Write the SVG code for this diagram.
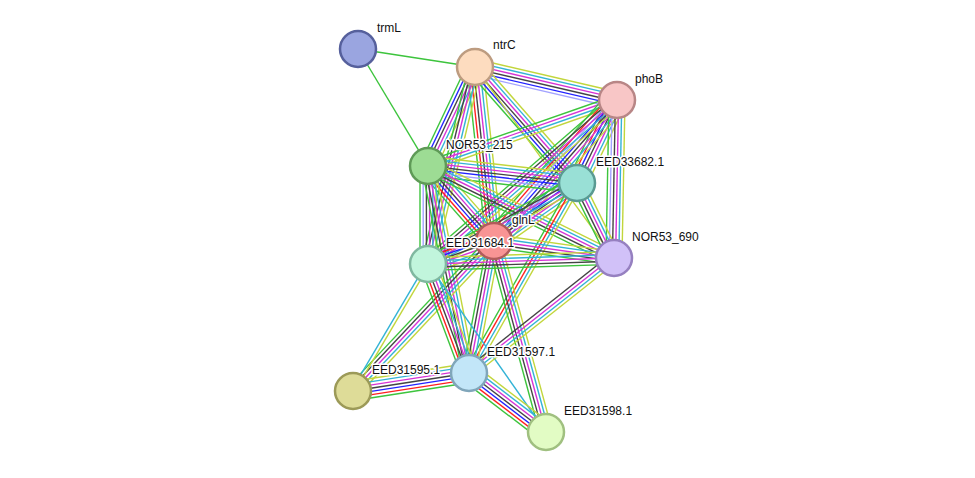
<svg xmlns="http://www.w3.org/2000/svg" width="975" height="478" viewBox="0 0 975 478">
<style>
.e line{stroke-width:1.4;fill:none}
.g{stroke:#3dc43d}.r{stroke:#ff2020}.b{stroke:#2323ff}.k{stroke:#444}.m{stroke:#d633d6}.c{stroke:#33b3d6}.y{stroke:#c2d63c}.l{stroke:#a3a3ff}
.n circle{stroke-width:2.5}
.n text{font-family:"Liberation Sans",Arial,sans-serif;font-size:12px;fill:#111;stroke:#fff;stroke-width:3;paint-order:stroke;stroke-linejoin:round}
</style>
<defs>
<g id="b_g" class="e"><line class="g" x2="1"/></g>
<g id="b_y" class="e"><line class="y" x2="1"/></g>
<g id="b_c" class="e"><line class="c" x2="1"/></g>
<g id="b_cy" class="e"><line class="y" x2="1" y1="-1.6" y2="-1.6"/><line class="c" x2="1" y1="1.6" y2="1.6"/></g>
<g id="b_kmcy" class="e"><line class="y" x2="1" y1="-4.8" y2="-4.8"/><line class="c" x2="1" y1="-1.6" y2="-1.6"/><line class="m" x2="1" y1="1.6" y2="1.6"/><line class="k" x2="1" y1="4.8" y2="4.8"/></g>
<g id="b_gmcy" class="e"><line class="y" x2="1" y1="-4.8" y2="-4.8"/><line class="c" x2="1" y1="-1.6" y2="-1.6"/><line class="m" x2="1" y1="1.6" y2="1.6"/><line class="g" x2="1" y1="4.8" y2="4.8"/></g>
<g id="b_grcy" class="e"><line class="y" x2="1" y1="-4.8" y2="-4.8"/><line class="c" x2="1" y1="-1.6" y2="-1.6"/><line class="r" x2="1" y1="1.6" y2="1.6"/><line class="g" x2="1" y1="4.8" y2="4.8"/></g>
<g id="b_gkmcy" class="e"><line class="y" x2="1" y1="-6.4" y2="-6.4"/><line class="c" x2="1" y1="-3.2" y2="-3.2"/><line class="m" x2="1"/><line class="k" x2="1" y1="3.2" y2="3.2"/><line class="g" x2="1" y1="6.4" y2="6.4"/></g>
<g id="b_NP" class="e"><line class="y" x2="1" y1="-8" y2="-8"/><line class="c" x2="1" y1="-4.8" y2="-4.8"/><line class="m" x2="1" y1="-1.6" y2="-1.6"/><line class="k" x2="1" y1="1.6" y2="1.6"/><line class="b" x2="1" y1="4.8" y2="4.8"/><line class="l" x2="1" y1="8" y2="8"/></g>
<g id="b_gbkmcy" class="e"><line class="y" x2="1" y1="-8" y2="-8"/><line class="c" x2="1" y1="-4.8" y2="-4.8"/><line class="m" x2="1" y1="-1.6" y2="-1.6"/><line class="k" x2="1" y1="1.6" y2="1.6"/><line class="b" x2="1" y1="4.8" y2="4.8"/><line class="g" x2="1" y1="8" y2="8"/></g>
<g id="b_grkmcy" class="e"><line class="y" x2="1" y1="-8" y2="-8"/><line class="c" x2="1" y1="-4.8" y2="-4.8"/><line class="m" x2="1" y1="-1.6" y2="-1.6"/><line class="k" x2="1" y1="1.6" y2="1.6"/><line class="r" x2="1" y1="4.8" y2="4.8"/><line class="g" x2="1" y1="8" y2="8"/></g>
<g id="b_gkmcyl" class="e"><line class="y" x2="1" y1="-8" y2="-8"/><line class="c" x2="1" y1="-4.8" y2="-4.8"/><line class="m" x2="1" y1="-1.6" y2="-1.6"/><line class="k" x2="1" y1="1.6" y2="1.6"/><line class="l" x2="1" y1="4.8" y2="4.8"/><line class="g" x2="1" y1="8" y2="8"/></g>
<g id="b_all7" class="e"><line class="y" x2="1" y1="-9.6" y2="-9.6"/><line class="c" x2="1" y1="-6.4" y2="-6.4"/><line class="m" x2="1" y1="-3.2" y2="-3.2"/><line class="k" x2="1"/><line class="b" x2="1" y1="3.2" y2="3.2"/><line class="r" x2="1" y1="6.4" y2="6.4"/><line class="g" x2="1" y1="9.6" y2="9.6"/></g>
<g id="b_gbkmcyl" class="e"><line class="y" x2="1" y1="-9.6" y2="-9.6"/><line class="c" x2="1" y1="-6.4" y2="-6.4"/><line class="m" x2="1" y1="-3.2" y2="-3.2"/><line class="k" x2="1"/><line class="b" x2="1" y1="3.2" y2="3.2"/><line class="l" x2="1" y1="6.4" y2="6.4"/><line class="g" x2="1" y1="9.6" y2="9.6"/></g>
<g id="b_all8" class="e"><line class="y" x2="1" y1="-11.2" y2="-11.2"/><line class="c" x2="1" y1="-8" y2="-8"/><line class="m" x2="1" y1="-4.8" y2="-4.8"/><line class="k" x2="1" y1="-1.6" y2="-1.6"/><line class="b" x2="1" y1="1.6" y2="1.6"/><line class="l" x2="1" y1="4.8" y2="4.8"/><line class="r" x2="1" y1="8" y2="8"/><line class="g" x2="1" y1="11.2" y2="11.2"/></g>
</defs>
<rect width="975" height="478" fill="#fff"/>
<g id="connectors">
<use href="#b_g" transform="translate(358 49) rotate(8.75) scale(118.4 1)"/>
<use href="#b_g" transform="translate(358 49) rotate(59.1) scale(136.3 1)"/>
<use href="#b_NP" transform="translate(475 67) rotate(13.08) scale(145.8 1)"/>
<use href="#b_gbkmcy" transform="translate(475 67) rotate(115.4) scale(109.6 1)"/>
<use href="#b_grkmcy" transform="translate(475 67) rotate(83.77) scale(175 1)"/>
<use href="#b_gkmcy" transform="translate(475 67) rotate(103.42) scale(202.5 1)"/>
<use href="#b_gbkmcy" transform="translate(475 67) rotate(48.67) scale(154.5 1)"/>
<use href="#b_y" transform="translate(475 67) rotate(53.95) scale(236.2 1)"/>
<use href="#b_gmcy" transform="translate(617 100) rotate(160.75) scale(200.2 1)"/>
<use href="#b_all7" transform="translate(617 100) rotate(115.73) scale(92.1 1)"/>
<use href="#b_all8" transform="translate(617 100) rotate(131.1) scale(187.1 1)"/>
<use href="#b_gkmcy" transform="translate(617 100) rotate(139.05) scale(250.2 1)"/>
<use href="#b_gkmcyl" transform="translate(617 100) rotate(91.09) scale(158 1)"/>
<use href="#b_gbkmcyl" transform="translate(428 166) rotate(6.51) scale(150 1)"/>
<use href="#b_all7" transform="translate(428 166) rotate(48.65) scale(99.9 1)"/>
<use href="#b_gkmcyl" transform="translate(428 166) rotate(90) scale(98 1)"/>
<use href="#b_gkmcy" transform="translate(428 166) rotate(26.32) scale(207.5 1)"/>
<use href="#b_gkmcy" transform="translate(428 166) rotate(78.8) scale(211 1)"/>
<use href="#b_gbkmcyl" transform="translate(577 183) rotate(145.06) scale(101.3 1)"/>
<use href="#b_gkmcy" transform="translate(577 183) rotate(151.47) scale(169.6 1)"/>
<use href="#b_gkmcy" transform="translate(577 183) rotate(63.74) scale(83.6 1)"/>
<use href="#b_grcy" transform="translate(577 183) rotate(119.61) scale(218.5 1)"/>
<use href="#b_all7" transform="translate(494 241) rotate(160.79) scale(69.9 1)"/>
<use href="#b_gkmcy" transform="translate(494 241) rotate(8.06) scale(121.2 1)"/>
<use href="#b_gkmcy" transform="translate(494 241) rotate(100.72) scale(134.3 1)"/>
<use href="#b_gkmcy" transform="translate(494 241) rotate(74.77) scale(198 1)"/>
<use href="#b_gkmcy" transform="translate(494 241) rotate(133.23) scale(205.9 1)"/>
<use href="#b_gkmcy" transform="translate(428 264) rotate(-1.85) scale(186.1 1)"/>
<use href="#b_grkmcy" transform="translate(428 264) rotate(69.39) scale(116.5 1)"/>
<use href="#b_cy" transform="translate(428 264) rotate(120.56) scale(147.5 1)"/>
<use href="#b_c" transform="translate(428 264) rotate(54.92) scale(205.3 1)"/>
<use href="#b_kmcy" transform="translate(614 258) rotate(141.58) scale(185.1 1)"/>
<use href="#b_all7" transform="translate(353 391) rotate(-8.82) scale(117.4 1)"/>
<use href="#b_all7" transform="translate(469 373) rotate(37.46) scale(97 1)"/>
</g>
<g id="trmL" class="n"><circle cx="358" cy="49" r="18" fill="#9aa5e0" stroke="#56609c"/><text x="377" y="32">trmL</text></g>
<g id="ntrC" class="n"><circle cx="475" cy="67" r="18" fill="#fddcbf" stroke="#bd9c80"/><text x="493" y="49">ntrC</text></g>
<g id="phoB" class="n"><circle cx="617" cy="100" r="18" fill="#f8c6c6" stroke="#b88686"/><text x="635" y="83">phoB</text></g>
<g id="NOR53_215" class="n"><circle cx="428" cy="166" r="18" fill="#9ddc94" stroke="#5f9a57"/><text x="446" y="149">NOR53_215</text></g>
<g id="EED33682.1" class="n"><circle cx="577" cy="183" r="18" fill="#99e0d6" stroke="#5a9a92"/><text x="596" y="166">EED33682.1</text></g>
<g id="glnL" class="n"><circle cx="494" cy="241" r="18" fill="#f89494" stroke="#b05c5c"/><text x="512" y="224">glnL</text></g>
<g id="NOR53_690" class="n"><circle cx="614" cy="258" r="18" fill="#d1c1f8" stroke="#9680c0"/><text x="632" y="241">NOR53_690</text></g>
<g id="EED31684.1" class="n"><circle cx="428" cy="264" r="18" fill="#c1f5dc" stroke="#80b8a0"/><text x="446" y="247">EED31684.1</text></g>
<g id="EED31597.1" class="n"><circle cx="469" cy="373" r="18" fill="#c2e6f8" stroke="#80a6ba"/><text x="487" y="356">EED31597.1</text></g>
<g id="EED31595.1" class="n"><circle cx="353" cy="391" r="18" fill="#dedc98" stroke="#9c9a58"/><text x="372" y="374">EED31595.1</text></g>
<g id="EED31598.1" class="n"><circle cx="546" cy="432" r="18" fill="#e2fcc4" stroke="#a0c080"/><text x="564" y="415">EED31598.1</text></g>
</svg>
